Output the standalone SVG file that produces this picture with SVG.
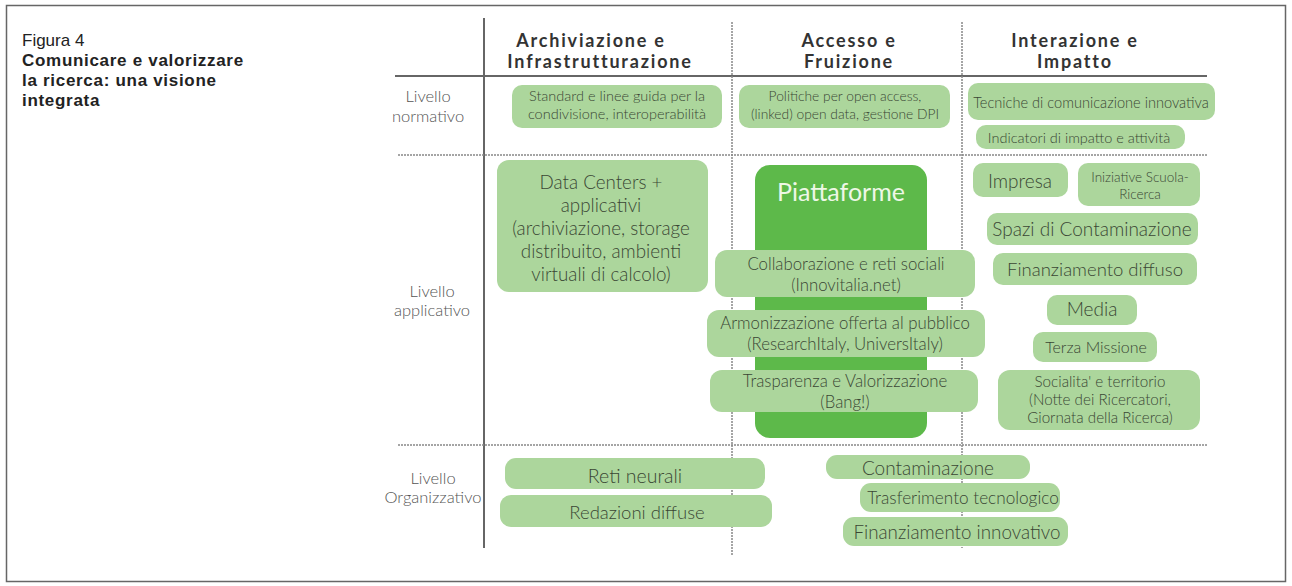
<svg xmlns="http://www.w3.org/2000/svg" width="1292" height="586" viewBox="0 0 1292 586">
<style>
.cap{font-family:"Liberation Sans",Arial,sans-serif;font-size:17px;fill:#222}
.capb{font-family:"Liberation Sans",Arial,sans-serif;font-size:17px;font-weight:700;fill:#222;letter-spacing:0.7px}
.hd{font-family:"Lato","Liberation Sans",sans-serif;font-size:18px;font-weight:700;fill:#333;text-anchor:middle;letter-spacing:1.8px}
.lv{font-family:"Lato","Liberation Sans",sans-serif;font-size:16.5px;font-weight:300;fill:#555;text-anchor:middle}
.bx{fill:#acd69c}
.dk{fill:#5db94a}
.t{font-family:"Lato","Liberation Sans",sans-serif;font-weight:300;fill:#3a4634;text-anchor:middle}
.solid{stroke:#666;stroke-width:2;fill:none}
.dot{stroke:#888;stroke-width:1.5;stroke-dasharray:2 1;fill:none}
</style>
<rect x="0" y="0" width="1292" height="586" fill="#fff"/>
<rect x="6.5" y="5.5" width="1279" height="576" fill="none" stroke="#666" stroke-width="1.5"/>
<g id="caption">
<text class="cap" x="22" y="46">Figura 4</text>
<text class="capb" x="22" y="66">Comunicare e valorizzare</text>
<text class="capb" x="22" y="86">la ricerca: una visione</text>
<text class="capb" x="22" y="106">integrata</text>
</g>
<g id="grid">
<line class="solid" x1="484" y1="18" x2="484" y2="548"/>
<line class="solid" x1="395" y1="76" x2="1207" y2="76"/>
<line class="dot" x1="732" y1="22" x2="732" y2="556"/>
<line class="dot" x1="962" y1="22" x2="962" y2="548"/>
<line class="dot" x1="398" y1="155" x2="1207" y2="155"/>
<line class="dot" x1="398" y1="445" x2="1207" y2="445"/>
</g>
<g id="headers">
<text class="hd" x="591" y="47">Archiviazione e</text>
<text class="hd" x="600" y="68">Infrastrutturazione</text>
<text class="hd" x="849" y="47">Accesso e</text>
<text class="hd" x="849" y="68">Fruizione</text>
<text class="hd" x="1075" y="47">Interazione e</text>
<text class="hd" x="1075" y="68">Impatto</text>
</g>
<g id="levels">
<text class="lv" x="428" y="102">Livello</text>
<text class="lv" x="428" y="122">normativo</text>
<text class="lv" x="432" y="297">Livello</text>
<text class="lv" x="432" y="316">applicativo</text>
<text class="lv" x="433" y="484">Livello</text>
<text class="lv" x="433" y="503">Organizzativo</text>
</g>
<g id="n-standard">
<rect class="bx" x="512" y="85" width="210" height="43" rx="10"/>
<text class="t" x="617" y="101" font-size="14.5">Standard e linee guida per la</text>
<text class="t" x="617" y="119" font-size="14.5">condivisione, interoperabilità</text>
</g>
<g id="n-politiche">
<rect class="bx" x="739" y="85" width="211" height="43" rx="10"/>
<text class="t" x="845" y="101" font-size="13.8">Politiche per open access,</text>
<text class="t" x="845" y="119" font-size="13.8">(linked) open data, gestione DPI</text>
</g>
<g id="n-tecniche">
<rect class="bx" x="968" y="83" width="247" height="37" rx="10"/>
<text class="t" x="1091" y="108" font-size="14.6">Tecniche di comunicazione innovativa</text>
</g>
<g id="n-indicatori">
<rect class="bx" x="976" y="125" width="209" height="24" rx="10"/>
<text class="t" x="1079" y="143" font-size="14.5">Indicatori di impatto e attività</text>
</g>
<g id="n-datacenters">
<rect class="bx" x="497" y="160" width="211" height="132" rx="12"/>
<text class="t" x="601" y="189" font-size="18.8">Data Centers +</text>
<text class="t" x="601" y="212" font-size="18.8">applicativi</text>
<text class="t" x="601" y="235" font-size="18.8">(archiviazione, storage</text>
<text class="t" x="601" y="258" font-size="18.8">distribuito, ambienti</text>
<text class="t" x="601" y="281" font-size="18.8">virtuali di calcolo)</text>
</g>
<g id="n-piattaforme">
<rect class="dk" x="755" y="165" width="172" height="273" rx="15"/>
<text x="841" y="201" font-family="Lato, 'Liberation Sans', sans-serif" font-size="25" fill="#eef7e6" text-anchor="middle">Piattaforme</text>
</g>
<g id="n-collaborazione">
<rect class="bx" x="715" y="250" width="260" height="47" rx="12"/>
<text class="t" x="846" y="270" font-size="16.8">Collaborazione e reti sociali</text>
<text class="t" x="846" y="291" font-size="16.8">(Innovitalia.net)</text>
</g>
<g id="n-armonizzazione">
<rect class="bx" x="707" y="310" width="278" height="47" rx="12"/>
<text class="t" x="845" y="329" font-size="16.8">Armonizzazione offerta al pubblico</text>
<text class="t" x="845" y="350" font-size="16.8">(ResearchItaly, UniversItaly)</text>
</g>
<g id="n-trasparenza">
<rect class="bx" x="710" y="370" width="268" height="42" rx="12"/>
<text class="t" x="845" y="387" font-size="16.8">Trasparenza e Valorizzazione</text>
<text class="t" x="845" y="408" font-size="16.8">(Bang!)</text>
</g>
<g id="n-impresa">
<rect class="bx" x="973" y="163" width="95" height="34" rx="10"/>
<text class="t" x="1020" y="188" font-size="19">Impresa</text>
</g>
<g id="n-scuola">
<rect class="bx" x="1078" y="163" width="122" height="43" rx="10"/>
<text class="t" x="1140" y="182" font-size="13.5">Iniziative Scuola-</text>
<text class="t" x="1140" y="199" font-size="13.5">Ricerca</text>
</g>
<g id="n-spazi">
<rect class="bx" x="987" y="213" width="211" height="32" rx="10"/>
<text class="t" x="1092" y="236" font-size="19">Spazi di Contaminazione</text>
</g>
<g id="n-finanziamento-diffuso">
<rect class="bx" x="993" y="253" width="204" height="32" rx="10"/>
<text class="t" x="1095" y="276" font-size="18.5">Finanziamento diffuso</text>
</g>
<g id="n-media">
<rect class="bx" x="1047" y="295" width="90" height="30" rx="10"/>
<text class="t" x="1092" y="316" font-size="19">Media</text>
</g>
<g id="n-terza">
<rect class="bx" x="1033" y="332" width="124" height="30" rx="10"/>
<text class="t" x="1096" y="353" font-size="16">Terza Missione</text>
</g>
<g id="n-socialita">
<rect class="bx" x="998" y="370" width="202" height="60" rx="12"/>
<text class="t" x="1100" y="387" font-size="15.2">Socialita' e territorio</text>
<text class="t" x="1100" y="405" font-size="15.2">(Notte dei Ricercatori,</text>
<text class="t" x="1100" y="423" font-size="15.2">Giornata della Ricerca)</text>
</g>
<g id="n-reti">
<rect class="bx" x="505" y="458" width="260" height="31" rx="11"/>
<text class="t" x="635" y="483" font-size="19.5">Reti neurali</text>
</g>
<g id="n-redazioni">
<rect class="bx" x="500" y="495" width="272" height="32" rx="11"/>
<text class="t" x="637" y="519" font-size="18.5">Redazioni diffuse</text>
</g>
<g id="n-contaminazione">
<rect class="bx" x="826" y="455" width="204" height="24" rx="11"/>
<text class="t" x="928" y="475" font-size="19">Contaminazione</text>
</g>
<g id="n-trasferimento">
<rect class="bx" x="860" y="483" width="200" height="29" rx="11"/>
<text class="t" x="963" y="504" font-size="17.2">Trasferimento tecnologico</text>
</g>
<g id="n-finanziamento-innovativo">
<rect class="bx" x="843" y="517" width="225" height="29" rx="11"/>
<text class="t" x="957" y="539" font-size="18.8">Finanziamento innovativo</text>
</g>
</svg>
